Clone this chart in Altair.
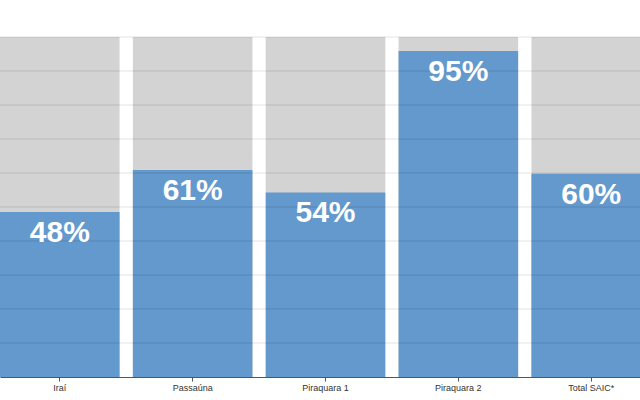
import altair as alt
import pandas as pd

categories = ["Iraí", "Passaúna", "Piraquara 1", "Piraquara 2", "Total SAIC*"]
values = [48.5, 60.9, 54.3, 95.9, 59.8]
totals = [100, 100, 100, 100, 100]
labels = ["48%", "61%", "54%", "95%", "60%"]
grid_values = [10, 20, 30, 40, 50, 60, 70, 80, 90, 100]

df = pd.DataFrame({"cat": categories, "val": values, "tot": totals, "lab": labels})
gdf = pd.DataFrame({"g": grid_values})

xscale = alt.Scale(domain=categories, range=[0, 651], paddingInner=0.1, paddingOuter=0)
yscale = alt.Scale(domain=[0, 100], nice=False)

xenc = alt.X("cat:N", scale=xscale, sort=categories, title=None,
             axis=alt.Axis(labelAngle=0, labelFont="Liberation Sans", labelFontSize=9,
                           labelColor="#333333", domainColor="#555555", tickColor="#555555",
                           tickSize=4, labelPadding=2, grid=False))

base = alt.Chart(df)

bg = base.mark_bar(color="#d3d3d3").encode(
    x=xenc,
    y=alt.Y("tot:Q", scale=yscale, title=None, axis=None),
)

fg = base.mark_bar(color="#6399cc").encode(
    x=alt.X("cat:N", scale=xscale, sort=categories),
    y=alt.Y("val:Q", scale=yscale, axis=None),
)

grid = alt.Chart(gdf).mark_rule(color="#000000", opacity=0.11, strokeWidth=1).encode(
    y=alt.Y("g:Q", scale=yscale, axis=None),
    x=alt.value(0),
    x2=alt.value(640),
)

txt = base.mark_text(color="white", fontSize=30, fontWeight="bold", font="Liberation Sans",
                     baseline="alphabetic", dy=30).encode(
    x=alt.X("cat:N", scale=xscale, sort=categories),
    y=alt.Y("val:Q", scale=yscale, axis=None),
    text="lab:N",
)

chart = alt.layer(bg, fg, grid, txt).properties(
    width=640, height=340,
    autosize=alt.AutoSizeParams(type="none"),
    padding={"left": 0, "top": 37, "right": 0, "bottom": 23},
).configure_view(stroke=None)

chart.save("out.html", embed_options={"renderer": "svg", "actions": False})
